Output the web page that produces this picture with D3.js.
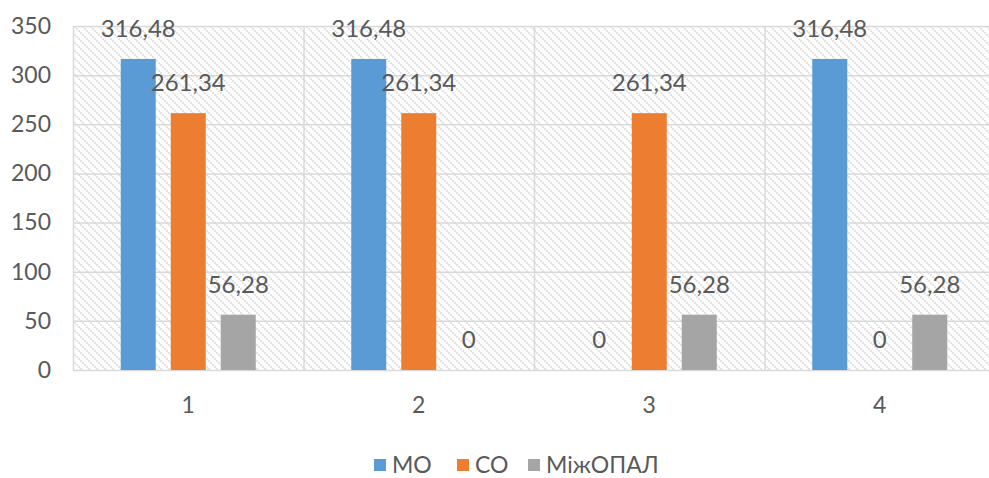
<!DOCTYPE html>
<html>
<head>
<meta charset="utf-8">
<script src="https://cdn.jsdelivr.net/npm/d3@7/dist/d3.min.js"></script>
<style>
  html, body { margin: 0; padding: 0; background: #ffffff; }
  svg { display: block; }
  text { font-family: Lato, "Open Sans", sans-serif; fill: #595959; }
</style>
</head>
<body>
<svg id="chart" width="989" height="478"></svg>
<script>
// Groups along the x axis
const categories = ["1", "2", "3", "4"];
// Series names and values per group
const seriesNames = ["МО", "СО", "МіжОПАЛ"];
const moValues = [316.48, 316.48, 0, 316.48];
const coValues = [261.34, 261.34, 261.34, 0];
const opalValues = [56.28, 0, 56.28, 56.28];
const yTicks = [0, 50, 100, 150, 200, 250, 300, 350];

const colors = ["#5b9bd5", "#ed7d31", "#a5a5a5"];
const seriesValues = [moValues, coValues, opalValues];

const svg = d3.select("#chart");
const plot = { left: 73, right: 995, top: 26, bottom: 370 };

const x0 = d3.scaleBand().domain(categories).range([plot.left, plot.right]).padding(0);
const x1 = d3.scaleBand().domain(seriesNames).range([-67.5, 67.5]).paddingInner(0.3).paddingOuter(0);
const y = d3.scaleLinear().domain([0, 350]).range([plot.bottom, plot.top]);

// Diagonal hatch fill for the plot background
const defs = svg.append("defs");
const pat = defs.append("pattern")
  .attr("id", "hatch")
  .attr("patternUnits", "userSpaceOnUse")
  .attr("width", 8).attr("height", 8);
pat.append("rect").attr("width", 8).attr("height", 8).attr("fill", "#ffffff");
pat.append("path")
  .attr("d", "M-2,-2 L10,10 M-2,6 L2,10 M6,-2 L10,2")
  .attr("stroke", "#e0e0e0")
  .attr("stroke-width", 2)
  .attr("stroke-dasharray", "2,1");

svg.append("rect")
  .attr("x", plot.left).attr("y", plot.top)
  .attr("width", plot.right - plot.left).attr("height", plot.bottom - plot.top)
  .attr("fill", "url(#hatch)");

// Horizontal gridlines
svg.append("g")
  .selectAll("line")
  .data(yTicks)
  .join("line")
  .attr("x1", plot.left).attr("x2", plot.right)
  .attr("y1", d => y(d) + 0.5).attr("y2", d => y(d) + 0.5)
  .attr("stroke", "#d9d9d9").attr("stroke-width", 1.5);

// Vertical gridlines between groups
const vEdges = categories.map(c => x0(c)).concat([x0(categories[3]) + x0.bandwidth()]);
svg.append("g")
  .selectAll("line")
  .data(vEdges)
  .join("line")
  .attr("x1", d => d + 0.5).attr("x2", d => d + 0.5)
  .attr("y1", plot.top).attr("y2", plot.bottom)
  .attr("stroke", "#d9d9d9").attr("stroke-width", 1.5);

// Y axis labels
const yAxis = d3.axisLeft(y).tickValues(yTicks).tickSize(0).tickPadding(0);
const yg = svg.append("g")
  .attr("transform", `translate(${plot.left - 22},0)`)
  .call(yAxis);
yg.select(".domain").remove();
yg.selectAll("text")
  .attr("font-size", 23)
  .attr("fill", "#595959")
  .attr("font-family", "Lato, sans-serif");

// X axis labels
const xAxis = d3.axisBottom(x0).tickSize(0).tickPadding(0);
const xg = svg.append("g")
  .attr("transform", `translate(0,${plot.bottom + 27})`)
  .call(xAxis);
xg.select(".domain").remove();
xg.selectAll("text")
  .attr("font-size", 23)
  .attr("fill", "#595959")
  .attr("font-family", "Lato, sans-serif");

// Bars and value labels
const rows = [];
categories.forEach((c, i) => {
  seriesNames.forEach((s, j) => {
    rows.push({ cat: c, series: s, j: j, value: seriesValues[j][i] });
  });
});

const fmt = v => d3.format(",.2~f")(v).replace(".", ",");

svg.append("g")
  .selectAll("rect")
  .data(rows.filter(d => d.value > 0))
  .join("rect")
  .attr("x", d => x0(d.cat) + x0.bandwidth() / 2 + x1(d.series))
  .attr("width", x1.bandwidth())
  .attr("y", d => y(d.value))
  .attr("height", d => y(0) - y(d.value))
  .attr("fill", d => colors[d.j]);

svg.append("g")
  .selectAll("text")
  .data(rows)
  .join("text")
  .attr("x", d => x0(d.cat) + x0.bandwidth() / 2 + x1(d.series) + x1.bandwidth() / 2)
  .attr("y", d => y(d.value) - 22)
  .attr("text-anchor", "middle")
  .attr("font-size", 24)
  .text(d => d.value === 0 ? "0" : fmt(d.value));

// Legend
const legendItems = [
  { name: seriesNames[0], color: colors[0], x: 374 },
  { name: seriesNames[1], color: colors[1], x: 457 },
  { name: seriesNames[2], color: colors[2], x: 528 }
];
const lg = svg.append("g");
const li = lg.selectAll("g").data(legendItems).join("g")
  .attr("transform", d => `translate(${d.x},459)`);
li.append("rect").attr("width", 12).attr("height", 12).attr("fill", d => d.color);
li.append("text")
  .attr("x", 18).attr("y", 14)
  .attr("font-size", 23)
  .text(d => d.name);
</script>
</body>
</html>
